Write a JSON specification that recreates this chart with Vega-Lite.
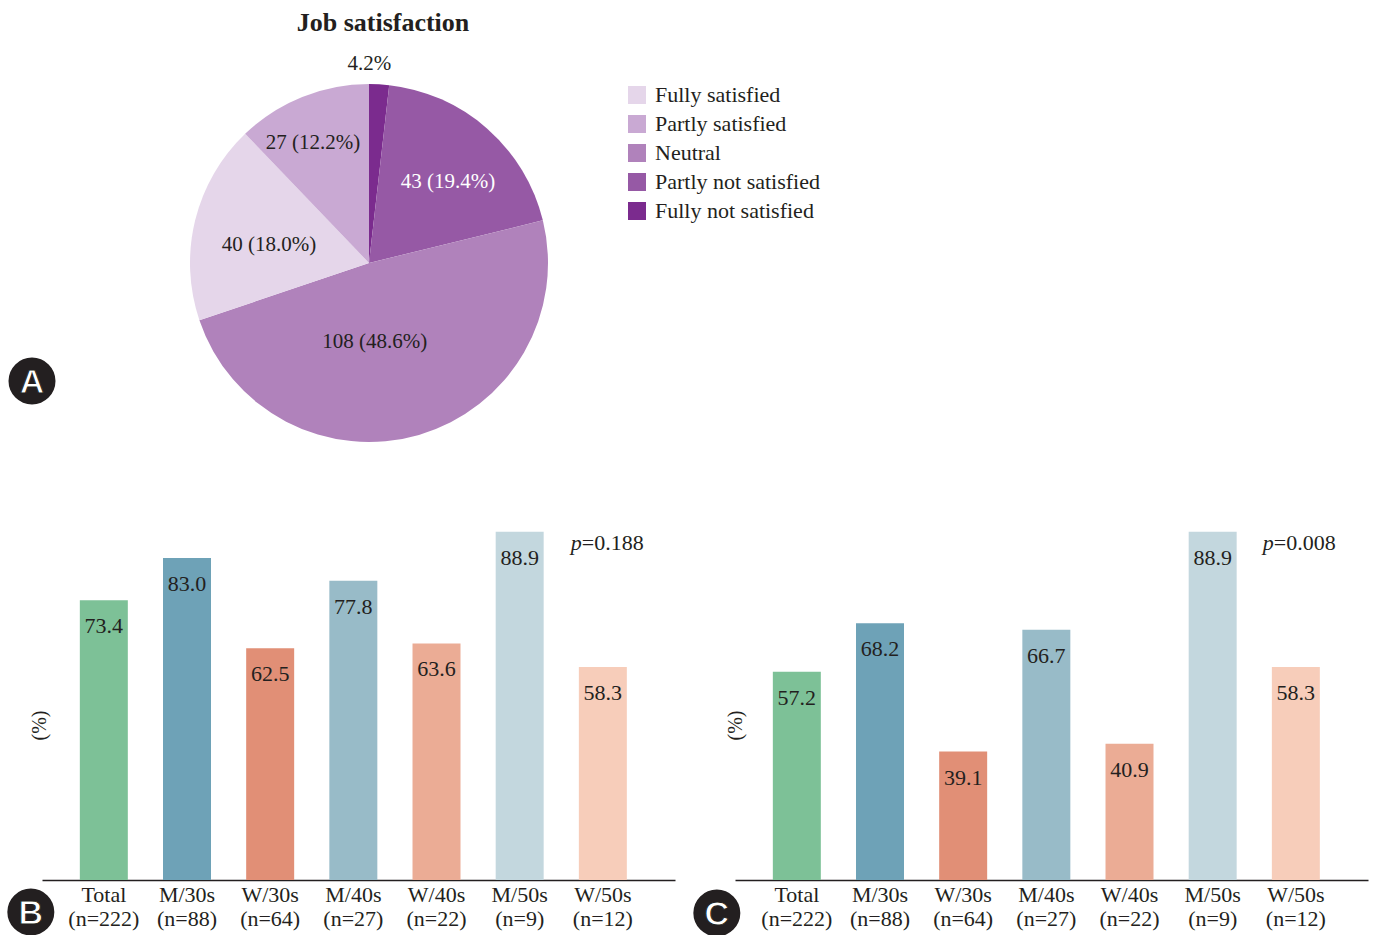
{
  "$schema": "https://vega.github.io/schema/vega-lite/v6.json",
  "autosize": {"type": "pad"},
  "padding": {"left": 7, "top": 0, "right": 5, "bottom": 0},
  "background": "white",
  "bounds": "flush",
  "spacing": 1,
  "resolve": {"scale": {"color": "independent"}, "legend": {"color": "independent"}},
  "config": {
    "font": "Liberation Serif",
    "view": {"stroke": null},
    "text": {"font": "Liberation Serif", "color": "#231f20"}
  },
  "datasets": {
    "job": [
      {"cat": "Fully not satisfied", "n": 4, "ord": 1, "label": "4.2%"},
      {"cat": "Partly not satisfied", "n": 43, "ord": 2, "label": "43 (19.4%)"},
      {"cat": "Neutral", "n": 108, "ord": 3, "label": "108 (48.6%)"},
      {"cat": "Fully satisfied", "n": 40, "ord": 4, "label": "40 (18.0%)"},
      {"cat": "Partly satisfied", "n": 27, "ord": 5, "label": "27 (12.2%)"}
    ],
    "B": [
      {"g": "Total", "v": 73.4},
      {"g": "M/30s", "v": 83.0},
      {"g": "W/30s", "v": 62.5},
      {"g": "M/40s", "v": 77.8},
      {"g": "W/40s", "v": 63.6},
      {"g": "M/50s", "v": 88.9},
      {"g": "W/50s", "v": 58.3}
    ],
    "C": [
      {"g": "Total", "v": 57.2},
      {"g": "M/30s", "v": 68.2},
      {"g": "W/30s", "v": 39.1},
      {"g": "M/40s", "v": 66.7},
      {"g": "W/40s", "v": 40.9},
      {"g": "M/50s", "v": 88.9},
      {"g": "W/50s", "v": 58.3}
    ]
  },
  "vconcat": [
    {
      "width": 654,
      "height": 526,
      "title": {"text": "Job satisfaction", "fontSize": 26, "font": "Liberation Serif", "fontWeight": "bold", "color": "#231f20", "anchor": "middle", "frame": "group", "dx": 14, "dy": 26, "offset": -31, "baseline": "alphabetic"},
      "layer": [
        {
          "data": {"name": "job"},
          "mark": {"type": "arc", "radius": 179},
          "encoding": {
            "theta": {"field": "n", "type": "quantitative", "stack": true},
            "order": {"field": "ord", "type": "quantitative"},
            "color": {
              "field": "cat", "type": "nominal",
              "scale": {
                "domain": ["Fully satisfied", "Partly satisfied", "Neutral", "Partly not satisfied", "Fully not satisfied"],
                "range": ["#e5d6ea", "#c9a9d3", "#b082bb", "#9659a5", "#7b2b8e"]
              },
              "legend": {"orient": "none", "legendX": 584, "legendY": 84, "title": null, "symbolType": "square", "symbolSize": 324, "symbolStrokeWidth": 0, "labelFontSize": 22, "labelFont": "Liberation Serif", "labelColor": "#231f20", "rowPadding": 7, "labelOffset": 7, "labelLimit": 400}
            }
          }
        },
        {
          "data": {"name": "job"},
          "mark": {"type": "text", "radius": 201, "fontSize": 21, "baseline": "middle", "dx": -11, "dy": 2},
          "encoding": {
            "theta": {"field": "n", "type": "quantitative", "stack": true},
            "order": {"field": "ord", "type": "quantitative"},
            "detail": {"field": "cat"},
            "text": {"condition": {"test": "datum.cat === 'Fully not satisfied'", "field": "label"}, "value": ""}
          }
        },
        {
          "data": {"name": "job"},
          "mark": {"type": "text", "radius": 115, "fontSize": 21, "baseline": "middle", "color": "white", "dx": 3, "dy": 5},
          "encoding": {
            "theta": {"field": "n", "type": "quantitative", "stack": true},
            "order": {"field": "ord", "type": "quantitative"},
            "detail": {"field": "cat"},
            "text": {"condition": {"test": "datum.cat === 'Partly not satisfied'", "field": "label"}, "value": ""}
          }
        },
        {
          "data": {"name": "job"},
          "mark": {"type": "text", "radius": 78, "fontSize": 21, "baseline": "middle", "dx": -16, "dy": 4},
          "encoding": {
            "theta": {"field": "n", "type": "quantitative", "stack": true},
            "order": {"field": "ord", "type": "quantitative"},
            "detail": {"field": "cat"},
            "text": {"condition": {"test": "datum.cat === 'Neutral'", "field": "label"}, "value": ""}
          }
        },
        {
          "data": {"name": "job"},
          "mark": {"type": "text", "radius": 101, "fontSize": 21, "baseline": "middle", "dx": -2, "dy": 6},
          "encoding": {
            "theta": {"field": "n", "type": "quantitative", "stack": true},
            "order": {"field": "ord", "type": "quantitative"},
            "detail": {"field": "cat"},
            "text": {"condition": {"test": "datum.cat === 'Fully satisfied'", "field": "label"}, "value": ""}
          }
        },
        {
          "data": {"name": "job"},
          "mark": {"type": "text", "radius": 134, "fontSize": 21, "baseline": "middle", "dx": -6, "dy": 4},
          "encoding": {
            "theta": {"field": "n", "type": "quantitative", "stack": true},
            "order": {"field": "ord", "type": "quantitative"},
            "detail": {"field": "cat"},
            "text": {"condition": {"test": "datum.cat === 'Partly satisfied'", "field": "label"}, "value": ""}
          }
        },
        {
          "data": {"values": [{"tag": "A"}]},
          "mark": {"type": "circle", "size": 2209, "color": "#231f20", "opacity": 1, "xOffset": -10, "yOffset": -145},
          "encoding": {
            "x": {"datum": 0, "type": "quantitative", "scale": {"domain": [0, 1]}, "axis": null},
            "y": {"datum": 0, "type": "quantitative", "scale": {"domain": [0, 1]}, "axis": null}
          }
        },
        {
          "data": {"values": [{"tag": "A"}]},
          "mark": {"type": "text", "font": "Liberation Sans", "fontWeight": "bold", "fontSize": 34, "color": "white", "align": "center", "baseline": "middle", "xOffset": -10, "yOffset": -143, "stroke": "#231f20", "strokeWidth": 1},
          "encoding": {
            "x": {"datum": 0, "type": "quantitative"},
            "y": {"datum": 0, "type": "quantitative"},
            "text": {"field": "tag"}
          }
        }
      ]
    },
    {
      "bounds": "flush",
      "spacing": 60,
      "hconcat": [
        {
          "width": 633,
          "height": 353,
          "layer": [
            {
              "data": {"name": "B"},
              "mark": {"type": "bar"},
              "encoding": {
                "x": {
                  "field": "g", "type": "nominal", "sort": null,
                  "scale": {"type": "band", "domain": ["Total", "M/30s", "W/30s", "M/40s", "W/40s", "M/50s", "W/50s"], "paddingInner": 0.423, "paddingOuter": 0.517, "align": 0.44},
                  "axis": {"title": null, "ticks": false, "domainColor": "#231f20", "domainWidth": 1.5, "labelFontSize": 22, "labelFont": "Liberation Serif", "labelColor": "#231f20", "labelPadding": 4, "labelLineHeight": 24, "labelAngle": 0, "labelBaseline": "top",
                    "labelExpr": "[datum.value, datum.value == 'Total' ? '(n=222)' : datum.value == 'M/30s' ? '(n=88)' : datum.value == 'W/30s' ? '(n=64)' : datum.value == 'M/40s' ? '(n=27)' : datum.value == 'W/40s' ? '(n=22)' : datum.value == 'M/50s' ? '(n=9)' : '(n=12)']"}
                },
                "y": {
                  "field": "v", "type": "quantitative",
                  "scale": {"domain": [10, 90], "zero": false, "nice": false, "clamp": true},
                  "axis": {"title": "(%)", "domain": false, "ticks": false, "labels": false, "grid": false, "titleFontSize": 20, "titleFontWeight": "normal", "titleColor": "#231f20", "titleFont": "Liberation Serif", "titleX": -3, "titleY": 198, "titleAlign": "center", "titleBaseline": "middle", "titleAngle": -90}
                },
                "color": {"field": "g", "type": "nominal", "legend": null,
                  "scale": {"domain": ["Total", "M/30s", "W/30s", "M/40s", "W/40s", "M/50s", "W/50s"], "range": ["#7dc197", "#6ea2b7", "#e18f76", "#98bbc8", "#ebac95", "#c3d7de", "#f7cdba"]}}
              }
            },
            {
              "data": {"name": "B"},
              "mark": {"type": "text", "baseline": "middle", "dy": 26, "fontSize": 22},
              "encoding": {
                "x": {"field": "g", "type": "nominal", "sort": null},
                "y": {"field": "v", "type": "quantitative"},
                "text": {"field": "v", "type": "quantitative", "format": ".1f"}
              }
            },
            {
              "data": {"values": [{"t": "p"}]},
              "mark": {"type": "text", "fontStyle": "italic", "fontSize": 22, "align": "right", "baseline": "middle", "dx": -21},
              "encoding": {"x": {"datum": "W/50s", "type": "nominal"}, "y": {"datum": 86.4, "type": "quantitative"}, "text": {"field": "t", "type": "nominal"}}
            },
            {
              "data": {"values": [{"t": "=0.188"}]},
              "mark": {"type": "text", "fontSize": 22, "align": "left", "baseline": "middle", "dx": -21},
              "encoding": {"x": {"datum": "W/50s", "type": "nominal"}, "y": {"datum": 86.4, "type": "quantitative"}, "text": {"field": "t", "type": "nominal"}}
            },
            {
              "data": {"values": [{"tag": "B"}]},
              "mark": {"type": "circle", "size": 2209, "color": "#231f20", "opacity": 1, "xOffset": -73, "yOffset": 32},
              "encoding": {"x": {"datum": "Total", "type": "nominal"}, "y": {"datum": 10, "type": "quantitative"}}
            },
            {
              "data": {"values": [{"tag": "B"}]},
              "mark": {"type": "text", "font": "Liberation Sans", "fontWeight": "bold", "fontSize": 34, "color": "white", "align": "center", "baseline": "middle", "xOffset": -73, "yOffset": 34, "stroke": "#231f20", "strokeWidth": 1},
              "encoding": {"x": {"datum": "Total", "type": "nominal"}, "y": {"datum": 10, "type": "quantitative"}, "text": {"field": "tag", "type": "nominal"}}
            }
          ]
        },
        {
          "width": 633,
          "height": 353,
          "layer": [
            {
              "data": {"name": "C"},
              "mark": {"type": "bar"},
              "encoding": {
                "x": {
                  "field": "g", "type": "nominal", "sort": null,
                  "scale": {"type": "band", "domain": ["Total", "M/30s", "W/30s", "M/40s", "W/40s", "M/50s", "W/50s"], "paddingInner": 0.423, "paddingOuter": 0.517, "align": 0.44},
                  "axis": {"title": null, "ticks": false, "domainColor": "#231f20", "domainWidth": 1.5, "labelFontSize": 22, "labelFont": "Liberation Serif", "labelColor": "#231f20", "labelPadding": 4, "labelLineHeight": 24, "labelAngle": 0, "labelBaseline": "top",
                    "labelExpr": "[datum.value, datum.value == 'Total' ? '(n=222)' : datum.value == 'M/30s' ? '(n=88)' : datum.value == 'W/30s' ? '(n=64)' : datum.value == 'M/40s' ? '(n=27)' : datum.value == 'W/40s' ? '(n=22)' : datum.value == 'M/50s' ? '(n=9)' : '(n=12)']"}
                },
                "y": {
                  "field": "v", "type": "quantitative",
                  "scale": {"domain": [10, 90], "zero": false, "nice": false, "clamp": true},
                  "axis": {"title": "(%)", "domain": false, "ticks": false, "labels": false, "grid": false, "titleFontSize": 20, "titleFontWeight": "normal", "titleColor": "#231f20", "titleFont": "Liberation Serif", "titleX": 0, "titleY": 198, "titleAlign": "center", "titleBaseline": "middle", "titleAngle": -90}
                },
                "color": {"field": "g", "type": "nominal", "legend": null,
                  "scale": {"domain": ["Total", "M/30s", "W/30s", "M/40s", "W/40s", "M/50s", "W/50s"], "range": ["#7dc197", "#6ea2b7", "#e18f76", "#98bbc8", "#ebac95", "#c3d7de", "#f7cdba"]}}
              }
            },
            {
              "data": {"name": "C"},
              "mark": {"type": "text", "baseline": "middle", "dy": 26, "fontSize": 22},
              "encoding": {
                "x": {"field": "g", "type": "nominal", "sort": null},
                "y": {"field": "v", "type": "quantitative"},
                "text": {"field": "v", "type": "quantitative", "format": ".1f"}
              }
            },
            {
              "data": {"values": [{"t": "p"}]},
              "mark": {"type": "text", "fontStyle": "italic", "fontSize": 22, "align": "right", "baseline": "middle", "dx": -22},
              "encoding": {"x": {"datum": "W/50s", "type": "nominal"}, "y": {"datum": 86.4, "type": "quantitative"}, "text": {"field": "t", "type": "nominal"}}
            },
            {
              "data": {"values": [{"t": "=0.008"}]},
              "mark": {"type": "text", "fontSize": 22, "align": "left", "baseline": "middle", "dx": -22},
              "encoding": {"x": {"datum": "W/50s", "type": "nominal"}, "y": {"datum": 86.4, "type": "quantitative"}, "text": {"field": "t", "type": "nominal"}}
            },
            {
              "data": {"values": [{"tag": "C"}]},
              "mark": {"type": "circle", "size": 2209, "color": "#231f20", "opacity": 1, "xOffset": -80, "yOffset": 33},
              "encoding": {"x": {"datum": "Total", "type": "nominal"}, "y": {"datum": 10, "type": "quantitative"}}
            },
            {
              "data": {"values": [{"tag": "C"}]},
              "mark": {"type": "text", "font": "Liberation Sans", "fontWeight": "bold", "fontSize": 34, "color": "white", "align": "center", "baseline": "middle", "xOffset": -80, "yOffset": 35, "stroke": "#231f20", "strokeWidth": 1},
              "encoding": {"x": {"datum": "Total", "type": "nominal"}, "y": {"datum": 10, "type": "quantitative"}, "text": {"field": "tag", "type": "nominal"}}
            }
          ]
        }
      ]
    }
  ]
}
